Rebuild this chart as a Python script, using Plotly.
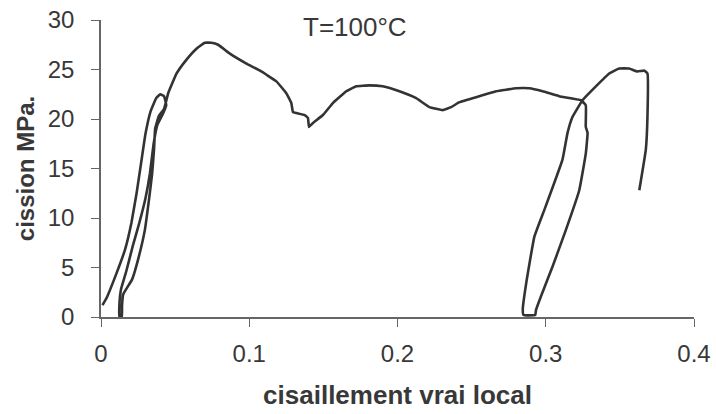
import plotly.graph_objects as go

# shear strain (cisaillement vrai local) and shear stress (cission, MPa)
strain = [
    0.001, 0.004, 0.0094, 0.0162, 0.0205, 0.024, 0.027, 0.030, 0.0335, 0.0372, 0.0400, 0.0425, 0.0440,
    0.0420, 0.0380, 0.0355, 0.0330, 0.0300, 0.0260, 0.0215, 0.0170, 0.0135, 0.0125, 0.0125,
    0.0140, 0.0142, 0.0150, 0.0210, 0.0250, 0.0296, 0.0325, 0.0345, 0.0358, 0.0365, 0.0390, 0.0425,
    0.0453, 0.0510, 0.0577, 0.0644, 0.0700, 0.0745, 0.0790, 0.0869, 0.0981, 0.1070, 0.1183, 0.1250,
    0.1284, 0.1295, 0.1318, 0.1374, 0.1396, 0.1403, 0.1430, 0.1497, 0.1564, 0.1655, 0.1722, 0.1811,
    0.1900, 0.2013, 0.2126, 0.2215, 0.2305, 0.2362, 0.2418, 0.2552, 0.2665, 0.2800, 0.2889, 0.2979,
    0.3091, 0.3237,
    0.3270, 0.3270, 0.3282, 0.3270, 0.3226, 0.3136, 0.3046, 0.2968, 0.2934, 0.2929,
    0.2850, 0.2845, 0.2868, 0.2923, 0.2990, 0.3113, 0.3147, 0.3180, 0.3248, 0.3338, 0.3428, 0.3495,
    0.3562, 0.3618, 0.3663, 0.3686, 0.3686, 0.3675, 0.3631,
]
stress = [
    1.2, 2.0, 4.0, 6.8, 9.5, 12.5, 15.5, 18.5, 20.8, 22.1, 22.5, 22.3, 21.4,
    20.6, 19.4, 17.5, 14.5, 12.0, 9.6, 7.2, 4.6, 2.8, 1.5, 0.0,
    0.0, 1.2, 2.3, 3.8, 5.8, 8.8, 12.0, 14.5, 17.0, 19.0, 20.3, 21.0,
    22.6, 24.6, 26.0, 27.1, 27.7, 27.7, 27.5, 26.6, 25.6, 24.9, 23.8, 22.6,
    21.6, 20.7, 20.6, 20.4, 20.1, 19.2, 19.6, 20.4, 21.6, 22.8, 23.3, 23.4,
    23.3, 22.8, 22.1, 21.2, 20.9, 21.2, 21.7, 22.3, 22.8, 23.1, 23.1, 22.8,
    22.3, 21.9,
    21.4, 19.2, 18.6, 16.5, 12.8, 8.8, 5.1, 2.1, 0.7, 0.2,
    0.2, 0.8, 3.4, 8.1, 10.8, 15.9, 18.6, 20.2, 21.9, 23.3, 24.6, 25.1,
    25.1, 24.8, 24.9, 24.6, 20.2, 16.9, 12.8,
]

x_ticks = [0, 0.1, 0.2, 0.3, 0.4]
x_tick_labels = ["0", "0.1", "0.2", "0.3", "0.4"]
y_ticks = [0, 5, 10, 15, 20, 25, 30]
y_tick_labels = ["0", "5", "10", "15", "20", "25", "30"]

title_x = "cisaillement vrai local"
title_y = "cission MPa."
label = "T=100°C"

text_col = "#383838"
axis_col = "#666666"

fig = go.Figure()
fig.add_trace(go.Scatter(
    x=strain, y=stress, mode="lines",
    line=dict(color="#333333", width=2.6, shape="spline", smoothing=0.3),
    hoverinfo="skip", showlegend=False,
))

fig.update_layout(
    width=716, height=414,
    margin=dict(l=101, r=22, t=20, b=97, autoexpand=False),
    paper_bgcolor="white", plot_bgcolor="white",
    font=dict(family="Liberation Sans, Arial, sans-serif", color=text_col),
    xaxis=dict(
        range=[0, 0.4], tickvals=x_ticks, ticktext=x_tick_labels, automargin=False,
        showgrid=False, zeroline=False, showline=True, linecolor=axis_col, linewidth=1.5,
        ticks="outside", ticklen=8, tickcolor=axis_col, tickwidth=1.2,
        tickfont=dict(size=24, color=text_col), ticklabelstandoff=6,
        title=dict(text="<b>" + title_x + "</b>", font=dict(size=26, color=text_col), standoff=20),
    ),
    yaxis=dict(
        range=[0, 30], tickvals=y_ticks, ticktext=y_tick_labels, automargin=False,
        showgrid=False, zeroline=False, showline=True, linecolor=axis_col, linewidth=1.5,
        ticks="outside", ticklen=8, tickcolor=axis_col, tickwidth=1.2,
        tickfont=dict(size=24, color=text_col), ticklabelstandoff=12,
        title=dict(text="<b>" + title_y + "</b>", font=dict(size=24, color=text_col), standoff=6),
    ),
    annotations=[dict(
        text=label, xref="paper", yref="paper", x=0.428, y=0.975,
        xanchor="center", yanchor="middle", showarrow=False,
        font=dict(size=26, color=text_col),
    )],
)

fig.write_html(
    "out.html",
    config={"displayModeBar": False},
    post_script="document.body.style.margin='0';document.body.style.overflow='hidden';",
)
